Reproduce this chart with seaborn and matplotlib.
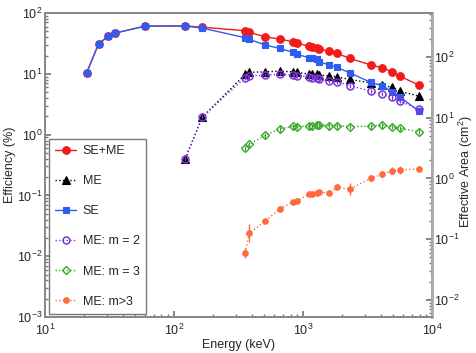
import matplotlib
matplotlib.use("Agg")
import matplotlib.pyplot as plt
import numpy as np
import pandas as pd
import seaborn as sns
from matplotlib.ticker import LogLocator

# energies (keV)
e_low = [21, 26, 31, 35, 60, 122, 166]
e_high = [356, 383, 511, 662, 835, 898, 1115, 1173, 1275, 1332,
          1600, 1836, 2300, 3350, 4100, 4900, 5600, 7900]
e_me = [122, 166] + e_high

# efficiencies (%)
eff_sum = [10.3, 30.9, 41.9, 46.9, 61.1, 61.4, 58.6,
           51.2, 48.1, 40.7, 37.3, 33.7, 31.7, 28.7, 27.3, 26.2, 25.6,
           23.7, 21.7, 18.0, 14.0, 12.6, 10.8, 9.2, 6.55]
eff_se = [10.3, 30.9, 41.9, 46.9, 61.1, 61.0, 56.6,
          39.3, 36.9, 29.8, 26.2, 22.6, 20.9, 18.4, 18.0, 17.3, 15.8,
          14.0, 12.8, 10.4, 7.24, 6.38, 5.08, 4.20, 2.44]
eff_me = [0.40, 1.95, 9.8, 10.6, 10.8, 11.1, 10.8, 10.6, 9.9, 9.9, 9.8, 9.5,
          9.3, 8.9, 8.1, 7.1, 6.5, 6.0, 5.2, 4.3]
eff_m2 = [0.40, 1.95, 8.7, 9.3, 9.5, 9.9, 9.5, 9.3, 9.0, 8.7, 8.6, 8.1,
          7.6, 7.4, 6.4, 5.2, 4.66, 4.1, 3.57, 2.64]
eff_m3 = [0.60, 0.69, 0.98, 1.24, 1.38, 1.35, 1.40, 1.38, 1.44, 1.42,
          1.40, 1.40, 1.35, 1.38, 1.44, 1.35, 1.27, 1.12]
eff_m4 = [0.0114, 0.0238, 0.038, 0.060, 0.079, 0.082, 0.104, 0.104, 0.111,
          0.115, 0.108, 0.136, 0.126, 0.191, 0.222, 0.255, 0.262, 0.272]
# error half-length in decades for m>3
err_m4 = [0.08, 0.15, 0.03, 0.03, 0.03, 0.03, 0.03, 0.03, 0.03, 0.03,
          0.03, 0.03, 0.10, 0.05, 0.05, 0.06, 0.06, 0.03]

area_factor = 5.25  # cm2 per % efficiency

sns.set_theme(style="ticks")
plt.rcParams["font.family"] = ["Liberation Sans", "DejaVu Sans"]
plt.rcParams["mathtext.default"] = "regular"

fig = plt.figure(figsize=(4.77, 3.53), dpi=100)
ax = fig.add_axes([0.0943, 0.102, 0.8114, 0.861])

red = "#f21a1a"
blue = "#2f5cf2"
purple = "#7b35d6"
green = "#3aa82c"
orange = "#ff6a40"


def draw(x, y, color, marker, ms, ls, label, z, mfc=None, mew=0.8, lw=1.0):
    sns.lineplot(x=x, y=y, ax=ax, color=color, marker=marker, markersize=ms,
                 linestyle=ls, linewidth=lw, markeredgecolor=color,
                 markerfacecolor=mfc if mfc else color, markeredgewidth=mew,
                 label=label, zorder=z, estimator=None, sort=False)


draw(e_low + e_high, eff_sum, red, "o", 5.5, "-", "SE+ME", 3)
draw(e_me, eff_me, "black", "^", 5.5, ":", "ME", 4)
draw(e_low + e_high, eff_se, blue, "s", 4.5, "-", "SE", 5)
draw(e_me, eff_m2, purple, "o", 5, ":", "ME: m = 2", 6, mfc="none", mew=1.1)
draw(e_high, eff_m3, green, "D", 4.5, ":", "ME: m = 3", 6, mfc="none", mew=1.0)
draw(e_high, eff_m4, orange, "o", 4, ":", "ME: m>3", 6)

# error bars
m2 = np.array(eff_m2)
ax.errorbar(e_me, m2, yerr=[m2 * 0.08, m2 * 0.08], fmt="none",
            ecolor=purple, elinewidth=0.8, zorder=6)
m3 = np.array(eff_m3)
ax.errorbar(e_high, m3, yerr=[m3 * 0.1, m3 * 0.1], fmt="none",
            ecolor=green, elinewidth=0.8, zorder=6)
m4 = np.array(eff_m4)
f4 = 10 ** np.array(err_m4)
ax.errorbar(e_high, m4, yerr=[m4 - m4 / f4, m4 * f4 - m4], fmt="none",
            ecolor=orange, elinewidth=1.0, zorder=6)

ax.set_xscale("log")
ax.set_yscale("log")
ax.set_xlim(10, 1e4)
ax.set_ylim(1e-3, 1e2)
ax.set_xlabel("Energy (keV)", fontsize=9, va="center")
ax.set_ylabel("Efficiency (%)", fontsize=9, va="center")
ax.xaxis.set_label_coords(0.5, -0.092)
ax.yaxis.set_label_coords(-0.09, 0.5)
ax.tick_params(which="both", direction="in", labelsize=9, color="#777777")
ax.tick_params(which="major", length=4)
ax.tick_params(which="minor", length=2)
ax.tick_params(axis="y", pad=2)
ax.tick_params(axis="x", pad=4)
ax.yaxis.set_minor_locator(LogLocator(subs=np.arange(2, 10), numticks=20))

for s in ax.spines.values():
    s.set_color("#888888")
    s.set_linewidth(1.3)

ax2 = ax.twinx()
ax2.set_yscale("log")
ax2.set_ylim(1e-3 * area_factor, 1e2 * area_factor)
ax2.set_ylabel("Effective Area (cm$^2$)", fontsize=9, va="center")
ax2.yaxis.set_label_coords(1.088, 0.48)
ax2.tick_params(which="both", direction="in", labelsize=9, color="#777777")
ax2.tick_params(which="major", length=4)
ax2.tick_params(which="minor", length=2)
ax2.tick_params(axis="y", pad=1.5)
ax2.yaxis.set_minor_locator(LogLocator(subs=np.arange(2, 10), numticks=20))
for s in ax2.spines.values():
    s.set_color("#888888")
    s.set_linewidth(1.3)
ax2.spines["right"].set_color("#aaaaaa")
ax2.spines["right"].set_linewidth(2.0)

leg = ax.legend(loc="lower left", bbox_to_anchor=(0.01, 0.01), fontsize=9,
                labelspacing=1.45, handlelength=1.7, handletextpad=0.5,
                borderpad=0.5, borderaxespad=0.0, fancybox=False,
                framealpha=1.0)
leg.get_frame().set_edgecolor("#777777")
leg.get_frame().set_linewidth(1.0)
leg.set_zorder(10)

fig.savefig("out.png", dpi=100)
